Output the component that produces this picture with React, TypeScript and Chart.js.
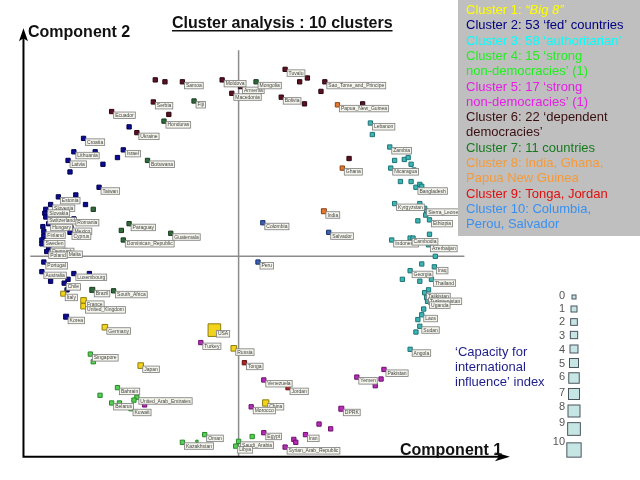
import { useEffect, useRef } from "react";
import { Chart, registerables } from "chart.js";

Chart.register(...registerables);

// [country label, component 1 score, component 2 score, capacity index 0-10]
type P = [string, number, number, number];

const cluster1Big8: P[] = [
  ["Italy", -1.81, -0.39, 2],
  ["France", -1.6, -0.46, 3],
  ["United_Kingdom", -1.6, -0.52, 3],
  ["Germany", -1.38, -0.74, 3],
  ["Japan", -1.01, -1.14, 3],
  ["USA", -0.25, -0.77, 10],
  ["Russia", -0.05, -0.96, 3],
  ["China", 0.28, -1.53, 4],
];

const cluster2Fed: P[] = [
  ["", -1.13, 1.35, 1],
  ["Croatia", -1.6, 1.23, 1],
  ["Lithuania", -1.7, 1.09, 1],
  ["", -1.48, 1.09, 1],
  ["Israel", -1.19, 1.11, 1],
  ["", -1.25, 1.03, 1],
  ["Latvia", -1.76, 1.0, 1],
  ["", -1.4, 0.96, 1],
  ["", -1.74, 0.88, 1],
  ["Taiwan", -1.44, 0.72, 1],
  ["Estonia", -1.86, 0.62, 1],
  ["", -1.68, 0.64, 1],
  ["Slovenia", -1.94, 0.54, 1],
  ["", -1.58, 0.54, 1],
  ["Slovakia", -1.99, 0.49, 1],
  ["", -2.0, 0.45, 1],
  ["Switzerland", -1.99, 0.41, 1],
  ["Romania", -1.7, 0.39, 1],
  ["Hungary", -1.96, 0.34, 1],
  ["", -2.02, 0.31, 1],
  ["Mexico", -1.73, 0.3, 1],
  ["Cyprus", -1.74, 0.25, 1],
  ["Finland", -2.01, 0.26, 1],
  ["", -2.01, 0.21, 1],
  ["Sweden", -2.03, 0.17, 1],
  ["", -2.03, 0.13, 1],
  ["Denmark", -1.96, 0.09, 1],
  ["Poland", -1.98, 0.05, 1],
  ["Malta", -1.79, 0.06, 1],
  ["Portugal", -2.01, -0.06, 1],
  ["Australia", -2.03, -0.16, 1],
  ["", -1.94, -0.26, 1],
  ["Luxembourg", -1.7, -0.18, 1],
  ["", -1.54, -0.18, 1],
  ["", -1.76, -0.24, 1],
  ["Chile", -1.8, -0.28, 1],
  ["", -1.77, -0.35, 1],
  ["Korea", -1.78, -0.63, 2],
];

const cluster3Authoritarian: P[] = [
  ["Lebanon", 1.36, 1.39, 1],
  ["", 1.38, 1.27, 1],
  ["Zambia", 1.56, 1.14, 1],
  ["", 1.61, 1.0, 1],
  ["", 1.71, 1.01, 1],
  ["", 1.75, 1.03, 1],
  ["", 1.78, 0.96, 1],
  ["", 1.81, 0.9, 1],
  ["Nicaragua", 1.57, 0.92, 1],
  ["", 1.67, 0.78, 1],
  ["", 1.78, 0.78, 1],
  ["Bangladesh", 1.83, 0.72, 1],
  ["", 1.87, 0.75, 1],
  ["", 1.89, 0.73, 1],
  ["Kyrgyzstan", 1.61, 0.55, 1],
  ["", 1.87, 0.55, 1],
  ["Sierra_Leone", 1.92, 0.5, 1],
  ["", 1.94, 0.47, 1],
  ["", 1.93, 0.43, 1],
  ["", 1.85, 0.37, 1],
  ["Ethiopia", 1.97, 0.38, 1],
  ["", 1.97, 0.23, 1],
  ["Indonesia", 1.58, 0.17, 1],
  ["Cambodia", 1.77, 0.19, 1],
  ["", 1.8, 0.19, 1],
  ["Azerbaijan", 1.96, 0.12, 1],
  ["", 2.03, 0.0, 1],
  ["", 1.89, -0.08, 1],
  ["Georgia", 1.77, -0.15, 1],
  ["Iraq", 2.02, -0.11, 1],
  ["", 1.69, -0.24, 1],
  ["", 1.87, -0.26, 1],
  ["Thailand", 1.99, -0.24, 1],
  ["", 1.96, -0.35, 1],
  ["Tajikistan", 1.92, -0.38, 1],
  ["Turkmenistan", 1.94, -0.43, 1],
  ["Uganda", 1.95, -0.47, 1],
  ["", 1.91, -0.55, 1],
  ["Laos", 1.89, -0.61, 1],
  ["", 1.85, -0.66, 1],
  ["Sudan", 1.87, -0.73, 1],
  ["", 1.83, -0.79, 1],
  ["Angola", 1.77, -0.97, 1],
];

const cluster4StrongNonDem: P[] = [
  ["Singapore", -1.53, -1.02, 1],
  ["", -1.5, -1.1, 1],
  ["Bahrain", -1.25, -1.37, 1],
  ["", -1.43, -1.45, 1],
  ["United_Arab_Emirates", -1.05, -1.47, 1],
  ["", -1.08, -1.5, 1],
  ["Belarus", -1.31, -1.53, 1],
  ["", -1.23, -1.53, 1],
  ["Kuwait", -1.11, -1.59, 1],
  ["Oman", -0.35, -1.86, 1],
  ["Kazakhstan", -0.58, -1.94, 1],
  ["", -0.43, -1.93, 0],
  ["Saudi_Arabia", 0.0, -1.93, 1],
  ["Libya", -0.03, -1.98, 1],
  ["", 0.14, -1.88, 1],
];

const cluster5StrongNonDem: P[] = [
  ["", -0.97, -1.55, 1],
  ["Turkey", -0.39, -0.9, 1],
  ["Venezuela", 0.26, -1.29, 1],
  ["Morocco", 0.13, -1.57, 1],
  ["Egypt", 0.26, -1.84, 1],
  ["", 0.57, -1.91, 1],
  ["", 0.59, -1.94, 1],
  ["Iran", 0.69, -1.86, 1],
  ["Syrian_Arab_Republic", 0.48, -1.99, 1],
  ["", 0.83, -1.75, 1],
  ["", 0.95, -1.8, 1],
  ["DPRK", 1.06, -1.59, 2],
  ["Yemen", 1.22, -1.26, 1],
  ["", 1.41, -1.35, 1],
  ["", 1.47, -1.28, 1],
  ["Pakistan", 1.5, -1.18, 1],
];

const cluster6Dependent: P[] = [
  ["", -0.86, 1.84, 1],
  ["", -0.76, 1.82, 1],
  ["Samoa", -0.58, 1.82, 1],
  ["Moldova", -0.17, 1.84, 1],
  ["Armenia", 0.02, 1.77, 1],
  ["Macedonia", -0.07, 1.7, 1],
  ["Serbia", -0.88, 1.61, 1],
  ["", -0.72, 1.48, 1],
  ["Ecuador", -1.31, 1.51, 1],
  ["Ukraine", -1.05, 1.29, 1],
  ["Tuvalu", 0.48, 1.95, 1],
  ["", 0.71, 1.86, 1],
  ["", 0.63, 1.82, 1],
  ["Bolivia", 0.44, 1.66, 1],
  ["", 0.68, 1.59, 1],
  ["Sao_Tome_and_Principe", 0.89, 1.82, 1],
  ["", 0.85, 1.72, 1],
  ["", 1.28, 1.59, 1],
  ["", 1.14, 1.02, 1],
];

const cluster7Countries: P[] = [
  ["Mongolia", 0.18, 1.82, 1],
  ["Fiji", -0.46, 1.62, 1],
  ["Honduras", -0.77, 1.41, 1],
  ["Botswana", -0.94, 1.0, 1],
  ["", -1.5, 0.49, 1],
  ["Paraguay", -1.13, 0.34, 1],
  ["", -1.21, 0.27, 1],
  ["Dominican_Republic", -1.19, 0.17, 1],
  ["Guatemala", -0.7, 0.24, 1],
  ["Brazil", -1.51, -0.35, 2],
  ["South_Africa", -1.29, -0.36, 1],
];

const cluster8: P[] = [
  ["Papua_New_Guinea", 1.02, 1.58, 1],
  ["Ghana", 1.07, 0.92, 1],
  ["India", 0.88, 0.47, 2],
];

const cluster9: P[] = [
  ["Tonga", 0.06, -1.11, 1],
  ["Jordan", 0.51, -1.37, 1],
];

const cluster10: P[] = [
  ["Colombia", 0.25, 0.35, 1],
  ["Peru", 0.2, -0.06, 1],
  ["Salvador", 0.93, 0.25, 1],
];

const clusterNames = [
  "Cluster 1", "Cluster 2", "Cluster 3", "Cluster 4", "Cluster 5",
  "Cluster 6", "Cluster 7", "Cluster 8", "Cluster 9", "Cluster 10",
];
const clusterPoints = [
  cluster1Big8, cluster2Fed, cluster3Authoritarian, cluster4StrongNonDem, cluster5StrongNonDem,
  cluster6Dependent, cluster7Countries, cluster8, cluster9, cluster10,
];
const clusterFill = [
  "#f2d41c", "#0c0c92", "#3db5b5", "#55cf55", "#b52cb5",
  "#5a1222", "#2f6b3a", "#e07a30", "#b42020", "#3a60b2",
];
const clusterStroke = [
  "#8f7c0c", "#00004f", "#1d7474", "#288a28", "#6e0f6e",
  "#2c0510", "#183a1f", "#8a4010", "#601010", "#1c3270",
];

// side of the marker (px) for each capacity index value 0..10
const capacityIndex = [0, 1, 2, 3, 4, 5, 6, 7, 8, 9, 10];
const capacitySide = [4, 6, 6.7, 7.3, 8, 9, 10.5, 11, 12, 12.7, 14.3];

const legendLines: [string, string, string][] = [
  ["Cluster 1: ", "\u201CBig 8\u201D", "#ffff00"],
  ["Cluster 2: 53 \u2018fed\u2019 countries", "", "#000080"],
  ["Cluster 3: 58 \u2018authoritarian\u2019", "", "#00ffff"],
  ["Cluster 4: 15 \u2018strong", "", "#22ee22"],
  ["non-democracies\u2019 (1)", "", "#22ee22"],
  ["Cluster 5: 17 \u2018strong", "", "#e61ee6"],
  ["non-democracies\u2019 (1)", "", "#e61ee6"],
  ["Cluster 6: 22 \u2018dependent", "", "#3a0f12"],
  ["democracies\u2019", "", "#3a0f12"],
  ["Cluster 7: 11 countries", "", "#157a1e"],
  ["Cluster 8: India, Ghana,", "", "#f59a3a"],
  ["Papua New Guinea", "", "#f59a3a"],
  ["Cluster 9: Tonga, Jordan", "", "#e01010"],
  ["Cluster 10: Columbia,", "", "#3a90f0"],
  ["Perou, Salvador", "", "#3a90f0"],
];

const capacityText = ["\u2018Capacity for", "international", "influence\u2019 index"];

const X_MIN = -2.36, X_MAX = 4.04, Y_MIN = -2.23, Y_MAX = 2.57;
const FONT = "'Liberation Sans', Arial, sans-serif";

const decor = {
  id: "decor",
  beforeDatasetsDraw(chart: any) {
    const { ctx, scales } = chart;
    const xs = scales.x, ys = scales.y;
    const x0 = xs.getPixelForValue(0);
    const y0 = ys.getPixelForValue(0);
    ctx.save();
    // crosshair
    ctx.strokeStyle = "#8c8c8c";
    ctx.lineWidth = 1.5;
    ctx.beginPath();
    ctx.moveTo(x0, ys.getPixelForValue(2.15));
    ctx.lineTo(x0, ys.getPixelForValue(-2.09));
    ctx.moveTo(xs.getPixelForValue(-2.15), y0);
    ctx.lineTo(xs.getPixelForValue(2.33), y0);
    ctx.stroke();
    // axes arrows
    const ax = xs.getPixelForValue(-2.22);
    const ay = ys.getPixelForValue(-2.09);
    const tipX = xs.getPixelForValue(2.8);
    const tipY = ys.getPixelForValue(2.38);
    ctx.strokeStyle = "#000";
    ctx.fillStyle = "#000";
    ctx.lineWidth = 2;
    ctx.beginPath();
    ctx.moveTo(ax, ay);
    ctx.lineTo(ax, tipY + 8);
    ctx.moveTo(ax - 1, ay);
    ctx.lineTo(tipX - 8, ay);
    ctx.stroke();
    ctx.beginPath();
    ctx.moveTo(ax, tipY);
    ctx.lineTo(ax - 4.5, tipY + 13);
    ctx.lineTo(ax, tipY + 10);
    ctx.lineTo(ax + 4.5, tipY + 13);
    ctx.closePath();
    ctx.fill();
    ctx.beginPath();
    ctx.moveTo(tipX, ay);
    ctx.lineTo(tipX - 15, ay - 4.5);
    ctx.lineTo(tipX - 11, ay);
    ctx.lineTo(tipX - 15, ay + 4.5);
    ctx.closePath();
    ctx.fill();
    ctx.restore();
  },
  afterDatasetsDraw(chart: any) {
    const { ctx } = chart;
    ctx.save();
    // country labels
    ctx.font = `5px ${FONT}`;
    ctx.textBaseline = "middle";
    chart.data.datasets.forEach((ds: any, i: number) => {
      const meta = chart.getDatasetMeta(i);
      ds.data.forEach((d: any, j: number) => {
        if (!d.name) return;
        const el = meta.data[j];
        const bx = el.x + 2;
        const by = el.y + 0.5;
        const w = ctx.measureText(d.name).width + 3;
        ctx.fillStyle = "#f4f4ec";
        ctx.fillRect(bx, by, w, 6.5);
        ctx.strokeStyle = "#7c7c7c";
        ctx.lineWidth = 0.8;
        ctx.strokeRect(bx, by, w, 6.5);
        ctx.fillStyle = "#444";
        ctx.fillText(d.name, bx + 1.5, by + 3.4);
      });
    });

    // title and axis names
    ctx.fillStyle = "#111";
    ctx.textBaseline = "alphabetic";
    ctx.font = `bold 16px ${FONT}`;
    const title = "Cluster analysis : 10 clusters";
    ctx.fillText(title, 172, 28);
    const tw = ctx.measureText(title).width;
    ctx.fillRect(172, 30, tw, 1.5);
    ctx.fillText("Component 2", 28, 37);
    ctx.fillText("Component 1", 400, 455);

    // legend box
    ctx.fillStyle = "#bfbfbf";
    ctx.fillRect(458, 0, 182, 236);
    ctx.font = `13px ${FONT}`;
    ctx.textBaseline = "middle";
    legendLines.forEach(([a, b, c], i) => {
      const y = 10.5 + i * 15.3;
      ctx.fillStyle = c;
      ctx.font = `13px ${FONT}`;
      ctx.fillText(a, 466, y);
      if (b) {
        const w = ctx.measureText(a).width;
        ctx.font = `italic 13px ${FONT}`;
        ctx.fillText(b, 466 + w, y);
      }
    });

    // capacity index legend
    ctx.font = `13px ${FONT}`;
    ctx.fillStyle = "#1e1e8a";
    capacityText.forEach((t, i) => ctx.fillText(t, 455, 352 + i * 15.3));
    const numY = [296, 309, 322, 336, 350, 364, 377, 393, 407, 423, 442];
    const sqY = [297, 309, 322, 335, 349, 363, 378, 394, 411, 429, 450];
    ctx.font = `11px ${FONT}`;
    ctx.textAlign = "right";
    capacityIndex.forEach((v, i) => {
      ctx.fillStyle = "#555";
      ctx.fillText(String(v), 565, numY[i]);
      const s = capacitySide[v];
      ctx.fillStyle = "#c6e6e3";
      ctx.fillRect(574 - s / 2, sqY[i] - s / 2, s, s);
      ctx.strokeStyle = "#4a5560";
      ctx.lineWidth = 1;
      ctx.strokeRect(574 - s / 2, sqY[i] - s / 2, s, s);
    });
    ctx.restore();
  },
};

export default function App() {
  const ref = useRef<HTMLCanvasElement>(null);
  useEffect(() => {
    if (!ref.current) return;
    const chart = new Chart(ref.current, {
      type: "scatter",
      data: {
        datasets: clusterPoints.map((pts, i) => ({
          label: clusterNames[i],
          data: pts.map((p) => ({ x: p[1], y: p[2], cap: p[3], name: p[0] })),
          pointStyle: "rect",
          pointRadius: (c: any) => (capacitySide[c.raw ? c.raw.cap : 1] - 1.7) / Math.SQRT2,
          pointBackgroundColor: clusterFill[i],
          pointBorderColor: clusterStroke[i],
          pointBorderWidth: 1,
          showLine: false,
        })) as any,
      },
      options: {
        animation: false,
        responsive: false,
        events: [],
        layout: { padding: 0 },
        scales: {
          x: { type: "linear", min: X_MIN, max: X_MAX, display: false },
          y: { type: "linear", min: Y_MIN, max: Y_MAX, display: false },
        },
        plugins: {
          legend: { display: false },
          tooltip: { enabled: false },
          title: { display: false },
        },
      },
      plugins: [decor],
    });
    return () => chart.destroy();
  }, []);
  return (
    <div style={{ position: "absolute", left: 0, top: 0, width: 640, height: 480, background: "#fff" }}>
      <canvas ref={ref} width={640} height={480} />
    </div>
  );
}
